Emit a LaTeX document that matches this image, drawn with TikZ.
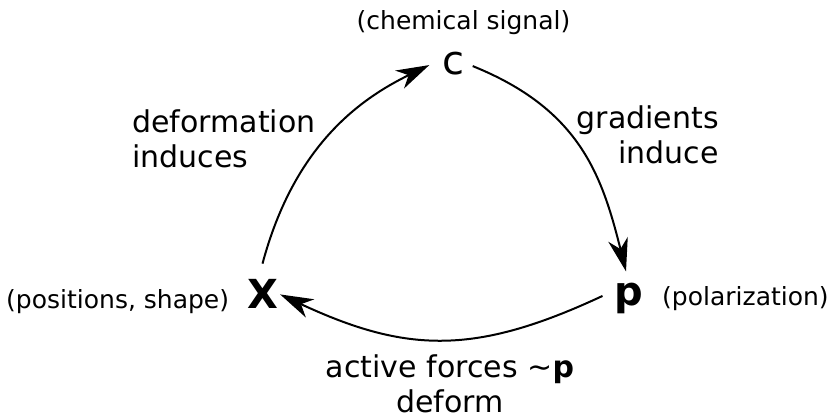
\documentclass[tikz,border=0pt]{standalone}
\usepackage{fontspec}
\setmainfont{DejaVu Sans}
\usetikzlibrary{arrows.meta,calc}
\tikzset{
  smalltxt/.style={font=\fontsize{25}{30}\selectfont, inner sep=0pt},
  midtxt/.style={font=\fontsize{30}{35}\selectfont, inner sep=0pt},
  bigtxt/.style={font=\fontsize{40}{46}\selectfont, inner sep=0pt},
  cyc/.style={line width=2pt, -{Stealth[length=33pt,width=20pt,inset=10pt]}}
}
\begin{document}
\begin{tikzpicture}[x=1pt,y=1pt]
\useasboundingbox (0,0) rectangle (832,418);
% variables
\node[bigtxt, anchor=base] (c) at (453.5,343) {c};
\node[bigtxt, anchor=base] (X) at (262.5,110) {\textbf{X}};
\node[bigtxt, anchor=base] (p) at (629,113) {\textbf{p}};
% descriptions
\node[smalltxt, anchor=base] (chem) at (463.5,388) {(chemical signal)};
\node[smalltxt, anchor=base west] (pos) at (6,110) {(positions, shape)};
\node[smalltxt, anchor=base west] (pol) at (662,113) {(polarization)};
% edge labels
\node[midtxt, anchor=base west, align=left] (lab1) at (132,250) {deformation\\induces};
\node[midtxt, anchor=base east, align=right] (lab2) at (719,254) {gradients\\induce};
\node[midtxt, anchor=base, align=center] (lab3) at (450,6) {active forces \textasciitilde\textbf{p}\\deform};
% cycle
\coordinate (s1) at ($(X.north)+(0,15)$);
\coordinate (e1) at ($(c.west)+(-13,-1)$);
\coordinate (s2) at ($(c.east)+(8,-2)$);
\coordinate (e2) at ($(p.north)+(-3,11)$);
\coordinate (s3) at ($(p.west)+(-12,2)$);
\coordinate (e3) at ($(X.east)+(2,-1)$);
\draw[cyc] (s1) .. controls +(75:120) and +(206:80) .. (e1);
\draw[cyc] (s2) .. controls +(-22:115) and +(104:100) .. (e2);
\draw[cyc] (s3) .. controls +(205:140) and +(-25:140) .. (e3);
\end{tikzpicture}
\end{document}
